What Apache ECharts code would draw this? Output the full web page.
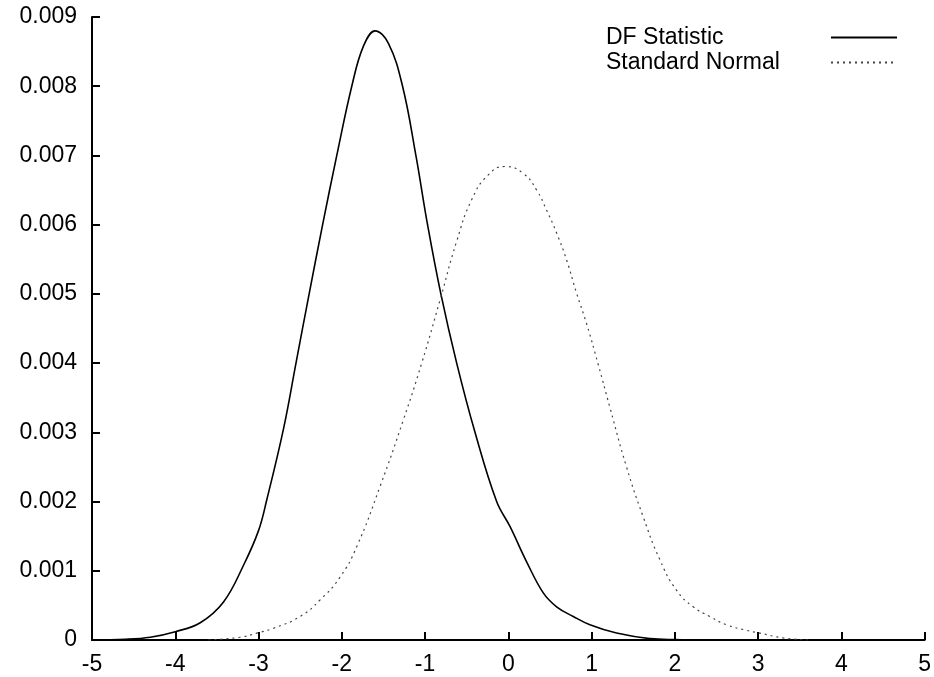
<!DOCTYPE html>
<html>
<head>
<meta charset="utf-8">
<script src="https://cdn.jsdelivr.net/npm/echarts@6/dist/echarts.min.js"></script>
<style>html,body{margin:0;padding:0;background:#fff}#c{width:934px;height:677px}</style>
</head>
<body>
<div id="c"></div>
<script>
var seriesNames = ['DF Statistic', 'Standard Normal'];
var dfX = [-5, -4.6, -4.3, -4.0, -3.7, -3.42, -3.18, -3.0, -2.9, -2.7, -2.55, -2.4, -2.23, -2.06, -1.88, -1.74, -1.6, -1.44, -1.27, -1.11, -0.97, -0.81, -0.62, -0.4, -0.14, 0.02, 0.22, 0.42, 0.58, 0.78, 0.98, 1.3, 1.7, 2.0, 2.4];
var dfY = [0, 0.00001, 0.00004, 0.00012, 0.00025, 0.00055, 0.00108, 0.00158, 0.00203, 0.00305, 0.004, 0.00495, 0.006, 0.007, 0.008, 0.00858, 0.0088, 0.00862, 0.008, 0.007, 0.006, 0.005, 0.004, 0.003, 0.002, 0.00164, 0.00113, 0.00068, 0.00048, 0.00034, 0.00022, 0.0001, 0.00002, 0.000005, 0];
var normX = [-3.6, -3.22, -3.02, -2.82, -2.5, -2.26, -2.02, -1.82, -1.54, -1.26, -1.04, -0.82, -0.62, -0.44, -0.24, -0.04, 0.18, 0.34, 0.46, 0.58, 0.7, 0.82, 0.94, 1.08, 1.22, 1.42, 1.62, 1.82, 2.02, 2.22, 2.42, 2.62, 2.86, 3.02, 3.3, 3.6];
var normY = [0, 0.00004, 0.0001, 0.00017, 0.00034, 0.00058, 0.00091, 0.00135, 0.00222, 0.00318, 0.004, 0.00491, 0.00576, 0.00636, 0.00672, 0.00684, 0.00674, 0.0065, 0.00621, 0.00588, 0.00549, 0.00501, 0.00457, 0.00398, 0.00336, 0.0025, 0.00178, 0.00116, 0.00072, 0.00048, 0.00034, 0.00022, 0.00014, 0.0001, 0.00003, 0];
var xTicks = {min: -5, max: 5, interval: 1};
var yTicks = {min: 0, max: 0.009, interval: 0.001};

function zip(xs, ys) { return xs.map(function (x, i) { return [x, ys[i]]; }); }

var FONT = '"Liberation Sans", Arial, sans-serif';
var chart = echarts.init(document.getElementById('c'), null, {renderer: 'canvas'});
chart.setOption({
  animation: false,
  backgroundColor: '#ffffff',
  grid: {left: 92, right: 9, top: 17, bottom: 37, containLabel: false},
  legend: {
    orient: 'vertical',
    right: 36,
    top: 26,
    padding: 0,
    align: 'right',
    itemWidth: 66,
    itemHeight: 14,
    itemGap: 2,
    data: seriesNames,
    itemStyle: {opacity: 0},
    formatter: function (n) { return '{a|' + n + '}'; },
    textStyle: {
      color: '#000',
      rich: {a: {width: 220, align: 'left', fontSize: 23, lineHeight: 24, fontFamily: FONT, color: '#000'}}
    }
  },
  xAxis: {
    type: 'value', min: xTicks.min, max: xTicks.max, interval: xTicks.interval,
    axisLine: {onZero: false, lineStyle: {color: '#000', width: 2}},
    axisTick: {inside: true, length: 8, lineStyle: {color: '#000', width: 2}},
    axisLabel: {color: '#000', fontSize: 23, fontFamily: FONT, margin: 13},
    splitLine: {show: false}
  },
  yAxis: {
    type: 'value', min: yTicks.min, max: yTicks.max, interval: yTicks.interval,
    axisLine: {show: true, onZero: false, lineStyle: {color: '#000', width: 2}},
    axisTick: {show: true, inside: true, length: 8, lineStyle: {color: '#000', width: 2}},
    axisLabel: {color: '#000', fontSize: 23, fontFamily: FONT, margin: 15,
      formatter: function (v) { return v === 0 ? '0' : v.toFixed(3); }},
    splitLine: {show: false}
  },
  series: [
    {
      name: seriesNames[0], type: 'line', data: zip(dfX, dfY), smooth: 0.4,
      showSymbol: false, symbol: 'none',
      lineStyle: {color: '#000', width: 1.6},
      itemStyle: {color: '#000'}
    },
    {
      name: seriesNames[1], type: 'line', data: zip(normX, normY), smooth: 0.5,
      showSymbol: false, symbol: 'none',
      lineStyle: {color: '#444', width: 1.2, type: [2, 4]},
      itemStyle: {color: '#444'}
    }
  ]
});
</script>
</body>
</html>
